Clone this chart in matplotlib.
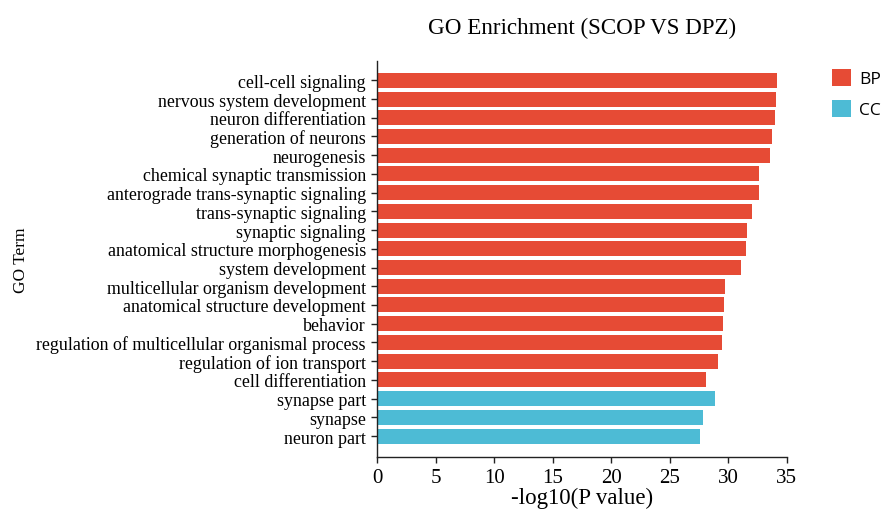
"""GO enrichment bar chart: SCOP vs DPZ."""

import matplotlib

matplotlib.use("Agg")
import matplotlib.pyplot as plt
from matplotlib.patches import Patch

TERMS = [
    "cell-cell signaling",
    "nervous system development",
    "neuron differentiation",
    "generation of neurons",
    "neurogenesis",
    "chemical synaptic transmission",
    "anterograde trans-synaptic signaling",
    "trans-synaptic signaling",
    "synaptic signaling",
    "anatomical structure morphogenesis",
    "system development",
    "multicellular organism development",
    "anatomical structure development",
    "behavior",
    "regulation of multicellular organismal process",
    "regulation of ion transport",
    "cell differentiation",
    "synapse part",
    "synapse",
    "neuron part",
]
NEG_LOG10_P = [
    34.14, 34.08, 34.02, 33.76, 33.54, 32.60, 32.60, 32.05, 31.62, 31.51,
    31.06, 29.69, 29.63, 29.52, 29.49, 29.15, 28.12, 28.86, 27.86, 27.56,
]
CATEGORY = ["BP"] * 17 + ["CC"] * 3

COLORS = {"BP": "#E64B35", "CC": "#4DBBD5"}
SERIF = ["Liberation Serif", "DejaVu Serif"]


def main():
    fig = plt.figure(figsize=(8.86, 5.10), dpi=100)
    ax = fig.add_axes([0.4255, 0.102, 0.4625, 0.776])

    ys = list(range(len(TERMS)))
    ax.barh(ys, NEG_LOG10_P, height=0.8,
            color=[COLORS[c] for c in CATEGORY], edgecolor="none")

    ax.set_ylim(20.12, -1.02)
    ax.set_xlim(0, 35)
    ax.set_xticks(range(0, 36, 5))
    ax.set_yticks(ys)
    ax.set_yticklabels(TERMS, family=SERIF, fontsize=12.9)
    for lbl in ax.get_xticklabels():
        lbl.set_family(SERIF)
        lbl.set_fontsize(15)

    ax.spines["top"].set_visible(False)
    ax.spines["right"].set_visible(False)
    for side in ("left", "bottom"):
        ax.spines[side].set_linewidth(1.0)
        ax.spines[side].set_color("#222222")
    ax.tick_params(axis="both", direction="out", length=4, width=1.0,
                   color="#222222")
    ax.tick_params(axis="x", pad=4)
    ax.tick_params(axis="y", pad=4)

    ax.set_xlabel("-log10(P value)", family=SERIF, fontsize=16.5, labelpad=0)
    fig.text(0.024, 0.49, "GO Term", family=SERIF, fontsize=12.5,
             rotation=90, ha="center", va="center")
    ax.set_title("GO Enrichment (SCOP VS DPZ)", family=SERIF,
                 fontsize=16.6, pad=20)

    handles = [Patch(facecolor=COLORS[k], edgecolor="none", label=k)
               for k in ("BP", "CC")]
    fig.legend(handles=handles, loc="upper left",
               bbox_to_anchor=(0.939, 0.863), frameon=False,
               prop={"family": "Open Sans", "size": 12.5},
               handlelength=1.1, handleheight=1.1, handletextpad=0.45,
               labelspacing=0.75, borderaxespad=0, borderpad=0)

    fig.savefig("out.png", dpi=100)
    plt.close(fig)


if __name__ == "__main__":
    main()
